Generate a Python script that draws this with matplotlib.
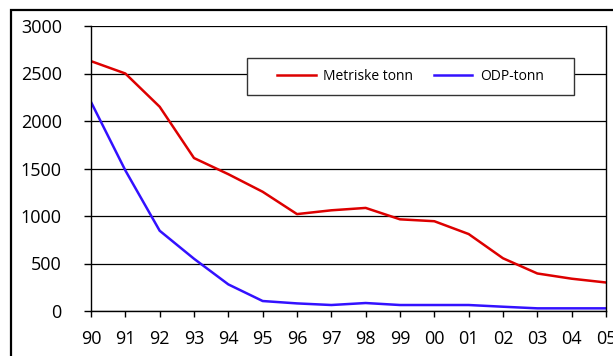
import matplotlib.pyplot as plt
from matplotlib.patches import Rectangle

# Data
years = ['90', '91', '92', '93', '94', '95', '96', '97', '98', '99',
         '00', '01', '02', '03', '04', '05']
metriske = [2630, 2500, 2150, 1610, 1440, 1255, 1020, 1060, 1085, 965,
            945, 810, 555, 395, 340, 300]
odp = [2200, 1480, 845, 550, 280, 105, 80, 63, 84, 63,
       63, 63, 45, 28, 28, 28]

plt.rcParams['font.family'] = ['Open Sans', 'DejaVu Sans']

fig = plt.figure(figsize=(6.13, 3.56), dpi=100)
ax = fig.add_axes([91/613, 1 - 311/356, 515/613, 285/356])

x = list(range(len(years)))
ax.plot(x, metriske, color='#dd0000', lw=1.8, label='Metriske tonn')
ax.plot(x, odp, color='#3311ff', lw=1.8, label='ODP-tonn')

ax.set_xlim(0, len(years) - 1)
ax.set_ylim(0, 3000)
ax.set_xticks(x)
ax.set_xticklabels(years)
ax.set_yticks(range(0, 3001, 500))
ax.yaxis.grid(True, color='black', lw=0.9)
ax.set_axisbelow(True)
ax.tick_params(axis='both', colors='black', labelsize=13, width=1)
ax.tick_params(axis='x', length=4.5, pad=9)
ax.tick_params(axis='y', length=5, pad=16)
ax.spines['top'].set_visible(False)
for s in ['left', 'right', 'bottom']:
    ax.spines[s].set_linewidth(1)

# legend box drawn by hand so the padding can be wide but short
box_l, box_r = (247 - 91) / 515, (574 - 91) / 515
box_b, box_t = (311 - 95) / 285, (311 - 58) / 285
ax.add_patch(Rectangle((box_l, box_b), box_r - box_l, box_t - box_b,
                       transform=ax.transAxes, facecolor='white',
                       edgecolor='#333333', lw=1, zorder=3))
leg = ax.legend(loc='center', bbox_to_anchor=((box_l + box_r) / 2, (box_b + box_t) / 2),
                ncol=2, frameon=False, fontsize=10,
                handlelength=2.75, columnspacing=1.5, handletextpad=0.55,
                borderpad=0, borderaxespad=0)
leg.set_zorder(5)

# outer frame
fig.patches.append(Rectangle((11/613, -0.1), 1.1, 1 - 10/356 + 0.1,
                             transform=fig.transFigure, fill=False,
                             edgecolor='black', lw=1.6))

fig.savefig('out.png', dpi=100)
